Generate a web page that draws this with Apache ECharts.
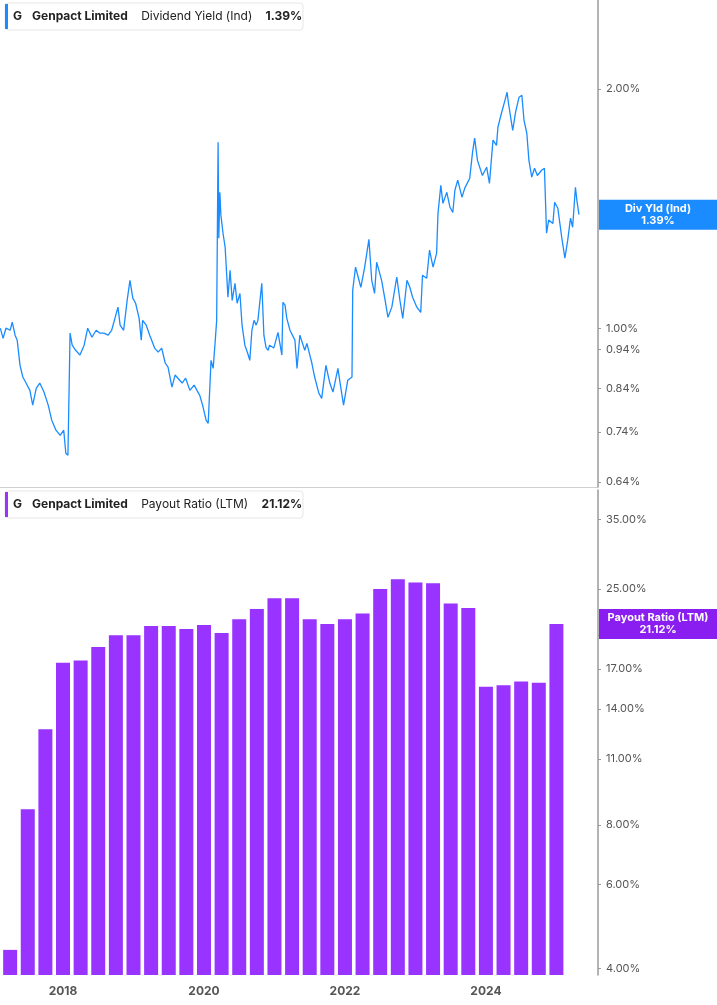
<!DOCTYPE html>
<html><head><meta charset="utf-8">
<script src="https://cdn.jsdelivr.net/npm/echarts@6/dist/echarts.min.js"></script>
<style>html,body{margin:0;padding:0;background:#fff}#c{width:717px;height:1005px}</style>
</head><body><div id="c"></div>
<script>
const yieldDates=[2017.11,2017.15,2017.19,2017.25,2017.28,2017.32,2017.35,2017.39,2017.43,2017.47,2017.53,2017.57,2017.62,2017.67,2017.73,2017.79,2017.84,2017.90,2017.96,2018.01,2018.04,2018.07,2018.10,2018.13,2018.18,2018.24,2018.30,2018.35,2018.41,2018.47,2018.52,2018.58,2018.64,2018.69,2018.78,2018.81,2018.86,2018.91,2018.95,2018.99,2019.03,2019.08,2019.11,2019.13,2019.18,2019.23,2019.30,2019.35,2019.40,2019.45,2019.49,2019.545,2019.59,2019.63,2019.69,2019.74,2019.80,2019.86,2019.90,2019.94,2019.98,2020.03,2020.06,2020.10,2020.13,2020.155,2020.18,2020.20,2020.21,2020.225,2020.24,2020.27,2020.30,2020.34,2020.37,2020.40,2020.44,2020.47,2020.51,2020.54,2020.58,2020.62,2020.65,2020.68,2020.71,2020.74,2020.765,2020.82,2020.85,2020.88,2020.91,2020.93,2020.99,2021.05,2021.105,2021.12,2021.15,2021.175,2021.22,2021.29,2021.32,2021.36,2021.43,2021.46,2021.53,2021.57,2021.63,2021.67,2021.73,2021.785,2021.83,2021.90,2021.94,2021.98,2022.04,2022.10,2022.11,2022.15,2022.225,2022.28,2022.34,2022.38,2022.42,2022.45,2022.52,2022.57,2022.61,2022.665,2022.735,2022.78,2022.82,2022.88,2022.92,2022.96,2023.02,2023.075,2023.10,2023.16,2023.20,2023.25,2023.30,2023.32,2023.36,2023.39,2023.445,2023.49,2023.53,2023.56,2023.60,2023.66,2023.70,2023.77,2023.81,2023.84,2023.88,2023.95,2024.01,2024.05,2024.10,2024.15,2024.17,2024.22,2024.27,2024.30,2024.32,2024.38,2024.42,2024.47,2024.51,2024.54,2024.58,2024.61,2024.65,2024.69,2024.73,2024.79,2024.83,2024.86,2024.89,2024.95,2024.975,2025.02,2025.075,2025.12,2025.16,2025.20,2025.23,2025.27,2025.29,2025.32];
const yieldValues=[1.000,0.971,1.000,0.994,1.018,0.980,0.966,0.898,0.868,0.855,0.835,0.800,0.840,0.853,0.831,0.800,0.766,0.744,0.733,0.744,0.696,0.692,0.986,0.952,0.938,0.925,0.952,1.000,0.974,0.994,0.986,0.986,0.980,0.994,1.063,1.009,0.994,1.084,1.149,1.091,1.075,1.029,0.966,1.023,1.009,0.980,0.944,0.933,0.944,0.904,0.893,0.843,0.873,0.865,0.853,0.865,0.835,0.848,0.835,0.823,0.800,0.766,0.759,0.911,0.890,0.952,1.023,1.714,1.298,1.483,1.388,1.317,1.265,1.094,1.183,1.084,1.139,1.075,1.106,1.009,0.952,0.930,0.911,0.994,1.023,1.009,1.023,1.139,0.980,0.946,0.938,0.952,0.944,0.988,0.925,1.078,1.069,1.029,0.994,0.966,0.890,0.980,0.938,0.957,0.904,0.868,0.828,0.816,0.898,0.853,0.831,0.890,0.843,0.800,0.860,0.868,1.116,1.194,1.126,1.194,1.294,1.149,1.106,1.211,1.149,1.084,1.032,1.063,1.160,1.084,1.029,1.149,1.126,1.094,1.063,1.047,1.166,1.156,1.254,1.194,1.242,1.395,1.513,1.436,1.483,1.420,1.399,1.492,1.536,1.462,1.501,1.545,1.665,1.735,1.627,1.557,1.595,1.522,1.725,1.699,1.791,1.865,1.936,1.982,1.920,1.775,1.870,1.954,1.965,1.828,1.760,1.627,1.550,1.590,1.557,1.581,1.590,1.317,1.368,1.355,1.441,1.416,1.302,1.225,1.290,1.376,1.340,1.505,1.449,1.39];
const payoutDates=[2017.25,2017.5,2017.75,2018.0,2018.25,2018.5,2018.75,2019.0,2019.25,2019.5,2019.75,2020.0,2020.25,2020.5,2020.75,2021.0,2021.25,2021.5,2021.75,2022.0,2022.25,2022.5,2022.75,2023.0,2023.25,2023.5,2023.75,2024.0,2024.25,2024.5,2024.75,2025.0];
const payoutValues=[4.38,8.63,12.7,17.5,17.7,18.9,20.0,20.0,20.9,20.9,20.6,21.0,20.2,21.6,22.7,23.9,23.9,21.6,21.1,21.6,22.2,25.0,26.2,25.8,25.7,23.3,22.8,15.6,15.7,16.0,15.9,21.12];
const yieldTicks=[0.64,0.74,0.84,0.94,1.00,2.00];
const payoutTicks=[4,6,8,11,14,17,20,25,35];
const yearTicks=[2018,2020,2022,2024];

const chart=echarts.init(document.getElementById('c'));
const axisCol='#9a9a9a', lblCol='#555';
const xMin=2017.106,xMax=2025.59;
const yAxisCommon={position:'right',axisLine:{show:true,lineStyle:{color:axisCol,width:1.5}},axisTick:{show:true,length:3,lineStyle:{color:axisCol}},splitLine:{show:false},minorTick:{show:false},
 axisLabel:{color:lblCol,fontSize:11,fontFamily:'Inter',margin:8,formatter:v=>Number(v).toFixed(2)+'%'}};
const rich={b:{fontWeight:'bold',fontSize:12,fontFamily:'Inter',fill:'#222'},n:{fontSize:12,fontFamily:'Inter',fill:'#222'}};
chart.setOption({
 animation:false,
 grid:[{left:0,right:119,top:0,height:487},{left:0,right:119,top:490,height:485}],
 xAxis:[
  {type:'value',gridIndex:0,min:xMin,max:xMax,show:false},
  {type:'value',gridIndex:1,min:xMin,max:xMax,splitLine:{show:false},axisLine:{show:false},axisTick:{show:false},
   axisLabel:{customValues:yearTicks,color:lblCol,fontSize:12,fontWeight:'bold',fontFamily:'Inter',margin:10,formatter:v=>String(v)}}
 ],
 yAxis:[
  Object.assign({},yAxisCommon,{type:'log',gridIndex:0,min:0.631,max:2.59,axisLabel:Object.assign({},yAxisCommon.axisLabel,{customValues:yieldTicks}),axisTick:Object.assign({},yAxisCommon.axisTick,{customValues:yieldTicks})}),
  Object.assign({},yAxisCommon,{type:'log',gridIndex:1,min:3.88,max:40.3,axisLabel:Object.assign({},yAxisCommon.axisLabel,{customValues:payoutTicks}),axisTick:Object.assign({},yAxisCommon.axisTick,{customValues:payoutTicks})})
 ],
 series:[
  {type:'line',xAxisIndex:0,yAxisIndex:0,data:yieldDates.map((d,i)=>[d,yieldValues[i]]),showSymbol:false,lineStyle:{color:'#1a8cff',width:1.3}},
  {type:'bar',xAxisIndex:1,yAxisIndex:1,data:payoutDates.map((d,i)=>[d,payoutValues[i]]),barWidth:14,itemStyle:{color:'#9933ff'}}
 ]
});
const lastY=yieldValues[yieldValues.length-1], lastP=payoutValues[payoutValues.length-1];
const py=chart.convertToPixel({xAxisIndex:0,yAxisIndex:0},[xMax,lastY])[1];
const pp=chart.convertToPixel({xAxisIndex:1,yAxisIndex:1},[xMax,lastP])[1];
function box(y,color,t1,t2){
 return [{type:'rect',z:100,shape:{x:599,y:y-15,width:118,height:30},style:{fill:color}},
  {type:'text',z:101,x:658,y:y,style:{text:t1+'\n'+t2,fill:'#fff',font:'bold 11px Inter',align:'center',verticalAlign:'middle',lineHeight:12}}];
}
chart.setOption({graphic:[
  {type:'line',shape:{x1:0,y1:487.5,x2:598,y2:487.5},style:{stroke:'#d0d0d0',lineWidth:1}},
  {type:'rect',shape:{x:5,y:3,width:298,height:27,r:3},style:{fill:'#fff',stroke:'#e6e6e6'}},
  {type:'rect',shape:{x:5,y:4,width:3,height:25},style:{fill:'#1a8cff'}},
  {type:'text',x:13,y:10,style:{text:'{b|G}   {b|Genpact Limited}    {n|Dividend Yield (Ind)}    {b|1.39%}',rich}},
  {type:'rect',shape:{x:5,y:491,width:298,height:27,r:3},style:{fill:'#fff',stroke:'#e6e6e6'}},
  {type:'rect',shape:{x:5,y:492,width:3,height:25},style:{fill:'#9933ff'}},
  {type:'text',x:13,y:498,style:{text:'{b|G}   {b|Genpact Limited}    {n|Payout Ratio (LTM)}    {b|21.12%}',rich}},
  ...box(py,'#1a8cff','Div Yld (Ind)',lastY.toFixed(2)+'%'),
  ...box(pp,'#8a1ef0','Payout Ratio (LTM)',lastP.toFixed(2)+'%')
]});
</script></body></html>
